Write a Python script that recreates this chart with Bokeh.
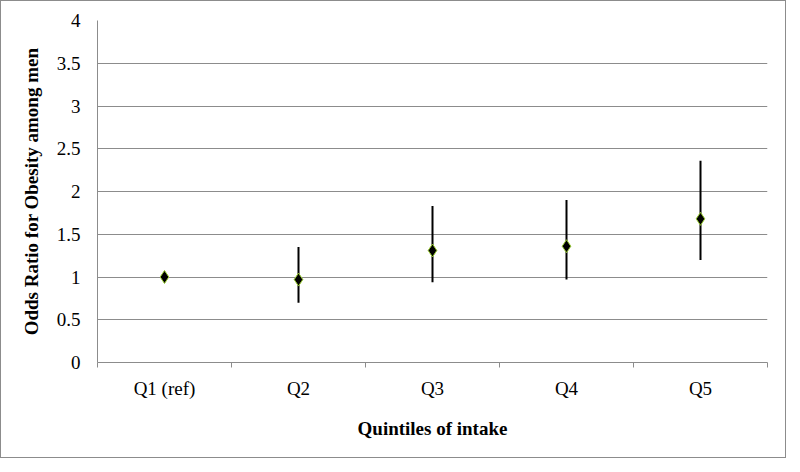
from bokeh.plotting import figure
from bokeh.models import ColumnDataSource, FixedTicker, Range1d
from bokeh.embed import file_html
from bokeh.resources import INLINE

categories = ["Q1 (ref)", "Q2", "Q3", "Q4", "Q5"]
odds_ratio = [1.00, 0.97, 1.31, 1.36, 1.68]
ci_lower = [1.00, 0.70, 0.94, 0.97, 1.20]
ci_upper = [1.00, 1.35, 1.83, 1.90, 2.36]
y_ticks = [0, 0.5, 1, 1.5, 2, 2.5, 3, 3.5, 4]

xpos = [i + 0.5 for i in range(len(categories))]
src = ColumnDataSource(dict(x=xpos, y=odds_ratio, lo=ci_lower, hi=ci_upper))

p = figure(width=786, height=458, output_backend="svg", toolbar_location=None,
           x_range=Range1d(0, len(categories)), y_range=Range1d(0, 4),
           min_border_left=96, min_border_right=20, min_border_top=19, min_border_bottom=97)
p.styles = {"border": "1px solid #8c8c8c"}
p.outline_line_color = None
p.background_fill_color = "white"

p.segment(x0="x", y0="lo", x1="x", y1="hi", source=src, line_color="black", line_width=2)
p.scatter(x="x", y="y", source=src, marker="diamond", size=13,
          fill_color="black", line_color="#9acd32", line_width=1)

font = "Liberation Serif"
# x axis
p.xaxis.ticker = FixedTicker(ticks=xpos, minor_ticks=list(range(len(categories) + 1)))
p.xaxis.major_label_overrides = {x: c for x, c in zip(xpos, categories)}
p.xaxis.major_tick_out = 0
p.xaxis.major_tick_in = 0
p.xaxis.minor_tick_out = 5
p.xaxis.minor_tick_in = 0
p.xaxis.minor_tick_line_color = "#8c8c8c"
p.xaxis.axis_line_color = "#8c8c8c"
p.xaxis.major_label_standoff = 10
p.xaxis.axis_label = "Quintiles of intake"
p.xaxis.axis_label_standoff = 16
p.xgrid.visible = False

# y axis
p.yaxis.ticker = FixedTicker(ticks=y_ticks)
p.yaxis.major_tick_out = 0
p.yaxis.major_tick_in = 0
p.yaxis.minor_tick_line_color = None
p.yaxis.axis_line_color = "#8c8c8c"
p.yaxis.major_label_standoff = 17
p.yaxis.axis_label = "Odds Ratio for Obesity among men"
p.yaxis.axis_label_standoff = 12
p.ygrid.ticker = FixedTicker(ticks=y_ticks)
p.ygrid.grid_line_color = "#8c8c8c"
p.ygrid.grid_line_width = 1

for ax in (p.xaxis, p.yaxis):
    ax.major_label_text_font = font
    ax.major_label_text_font_size = "19px"
    ax.major_label_text_color = "black"
    ax.axis_label_text_font = font
    ax.axis_label_text_font_size = "19px"
    ax.axis_label_text_font_style = "bold"
    ax.axis_label_text_color = "black"

open("out.html", "w").write(file_html(p, INLINE))
